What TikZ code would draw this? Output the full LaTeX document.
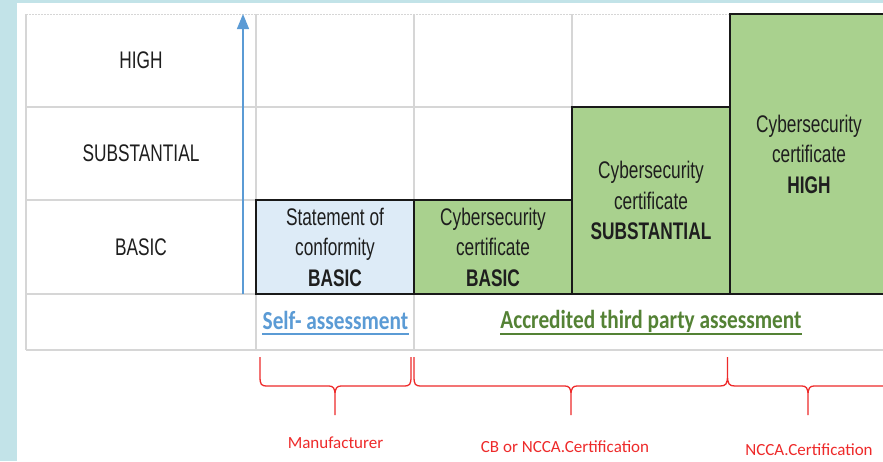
\documentclass[tikz,border=0pt]{standalone}
\usepackage{fontspec}
\setmainfont{Liberation Sans}
\newfontfamily\narrowfont[FakeStretch=0.72]{Liberation Sans}
\newfontfamily\calbold[FakeStretch=0.82]{Carlito}
\newfontfamily\calreg{Carlito}
\usetikzlibrary{arrows.meta}
\definecolor{bgteal}{HTML}{C2E3E8}
\definecolor{gridgray}{HTML}{D6D6D6}
\definecolor{boxgreen}{HTML}{A9D18E}
\definecolor{boxblue}{HTML}{DDEBF7}
\definecolor{arrblue}{HTML}{5B9BD5}
\definecolor{txtgreen}{HTML}{548235}
\definecolor{bracered}{HTML}{EE2A2A}
\definecolor{txtdark}{HTML}{1E1E1E}
\tikzset{
  gridline/.style={draw=gridgray, line width=1.1pt},
  certbox/.style={draw=black!90, line width=1.3pt, minimum width=158pt, inner sep=0pt,
    align=center, text=txtdark, font=\narrowfont\fontsize{24}{30.5}\selectfont},
  lvl/.style={text=txtdark, font=\narrowfont\fontsize{24}{26}\selectfont, inner sep=0pt},
  assess/.style={font=\calbold\bfseries\fontsize{26}{28}\selectfont, inner sep=0pt, anchor=base},
  bracepath/.style={draw=bracered, line width=1.3pt},
  redlabel/.style={text=bracered, font=\calreg\fontsize{17}{20}\selectfont, inner sep=0pt}
}
\begin{document}
\begin{tikzpicture}[x=1pt,y=-1pt]
\useasboundingbox (0,0) rectangle (883,461);
\clip (0,0) rectangle (883,461);
% background
\fill[bgteal] (0,0) rectangle (883,461);
\fill[white] (17,3) rectangle (883,461);
% grid
\draw[gridgray, line width=1pt, dash pattern=on 2pt off 1pt] (26,14) -- (883,14);
\draw[gridline] (26,107) -- (883,107);
\draw[gridline] (26,200) -- (883,200);
\draw[gridline] (26,294) -- (883,294);
\draw[gridline] (26,350) -- (883,350);
\draw[gridline] (26,14) -- (26,350);
\draw[gridline] (256,14) -- (256,350);
\draw[gridline] (414,14) -- (414,350);
\draw[gridline] (572,14) -- (572,200);
\draw[gridline] (730,14) -- (730,107);
% level labels
\node[lvl] (lhigh) at (141,60.5) {HIGH};
\node[lvl] (lsub) at (141,153.5) {SUBSTANTIAL};
\node[lvl] (lbasic) at (141,247) {BASIC};
% arrow
\coordinate (abot) at (243,294);
\coordinate (atop) at (243,14);
\draw[arrblue, line width=1.3pt, -{Triangle[width=12pt,length=15pt]}] (abot) -- (atop);
% boxes
\node[certbox, fill=boxblue, minimum height=94pt] (stmt) at (335,247)
  {Statement of\\conformity\\\textbf{BASIC}};
\node[certbox, fill=boxgreen, minimum height=94pt] (cbasic) at (493,247)
  {Cybersecurity\\certificate\\\textbf{BASIC}};
\node[certbox, fill=boxgreen, minimum height=187pt] (csub) at (651,200.5)
  {Cybersecurity\\certificate\\\textbf{SUBSTANTIAL}};
\node[certbox, fill=boxgreen, minimum height=280pt] (chigh) at (809,154)
  {Cybersecurity\\certificate\\\textbf{HIGH}};
% assessment labels
\node[assess, text=arrblue] (self) at (335.5,329) {Self- assessment};
\draw[arrblue, line width=2pt] ([yshift=-5pt]self.base west) -- ([yshift=-5pt]self.base east);
\node[assess, text=txtgreen] (accr) at (651,328) {Accredited third party assessment};
\draw[txtgreen, line width=2pt] ([yshift=-6pt]accr.base west) -- ([yshift=-6pt]accr.base east);
% braces
\draw[bracepath] (260,357) -- (260,376) .. controls (260,385) and (261,386) .. (268,386)
  -- (329,386) .. controls (333,386) and (335,388) .. (335,395) -- (335,415)
  -- (335,395) .. controls (335,388) and (337,386) .. (341,386)
  -- (403,386) .. controls (410,386) and (411,385) .. (411,376) -- (411,357);
\draw[bracepath] (414,357) -- (414,376) .. controls (414,385) and (415,386) .. (422,386)
  -- (565,386) .. controls (569,386) and (571,388) .. (571,395) -- (571,415)
  -- (571,395) .. controls (571,388) and (573,386) .. (577,386)
  -- (720,386) .. controls (726,386) and (727.5,384) .. (727.5,375) -- (727.5,357)
  -- (727.5,375) .. controls (727.5,384) and (729,386) .. (735,386)
  -- (802,386) .. controls (806,386) and (808,388) .. (808,395) -- (808,415)
  -- (808,395) .. controls (808,388) and (810,386) .. (814,386) -- (883,386);
% red labels
\node[redlabel] (manu) at (335.5,443) {Manufacturer};
\node[redlabel] (cbn) at (565,447) {CB or NCCA.Certification};
\node[redlabel] (ncca) at (809,450) {NCCA.Certification};
\end{tikzpicture}
\end{document}
